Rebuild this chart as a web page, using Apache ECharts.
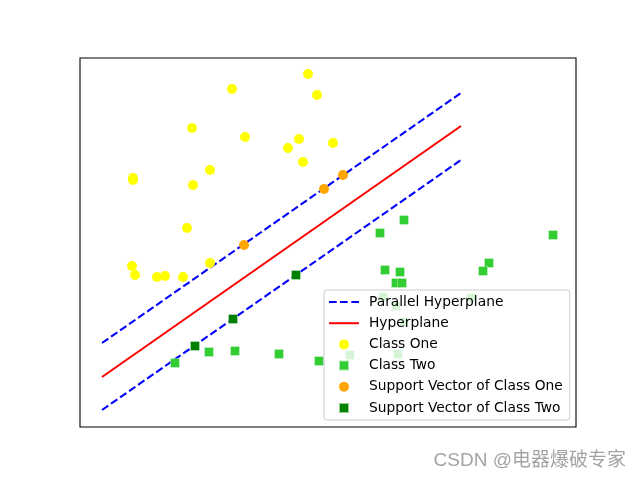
<!DOCTYPE html>
<html><head><meta charset="utf-8">
<script src="https://cdn.jsdelivr.net/npm/echarts@6/dist/echarts.min.js"></script>
<style>html,body{margin:0;padding:0;background:#fff}#c{width:640px;height:480px}</style>
</head><body><div id="c"></div>
<script>
// Data (units: arbitrary)
const classOne = [[228,353],[237,332],[152,338],[112,299],[165,290],[219,288],[208,279],[223,265],[53,249],[53,247],[130,257],[113,242],[107,199],[253,284],[52,161],[55,152],[77,150],[85,151],[103,150],[130,164]];
const classTwo = [[95,64],[129,75],[155,76],[199,73],[239,66],[324,207],[300,194],[473,192],[305,157],[320,155],[409,164],[403,156],[316,144],[322,144],[303,130],[316,121],[391,129],[324,105],[270,72],[318,73]];
const svOne = [[244,238],[263,252],[164,182]];
const svTwo = [[115,81],[153,108],[216,152]];
const hyperplane = [[22,50],[381,301]];
const parallelUpper = [[22,84],[381,334]];
const parallelLower = [[22,17],[381,267]];
const legendNames = ['Parallel Hyperplane','Hyperplane','Class One','Class Two','Support Vector of Class One','Support Vector of Class Two'];

const chart = echarts.init(document.getElementById('c'), null, {renderer:'canvas'});
const font = 'DejaVu Sans';
const sq = 'path://M0,0L10,0L10,10L0,10Z';
const solidIcon = 'path://M0,0L30,0L30,2L0,2Z';
const dashIcon = 'path://M0,0L7.7,0L7.7,2L0,2ZM11,0L18.7,0L18.7,2L11,2ZM22.3,0L30,0L30,2L22.3,2Z';
chart.setOption({
  animation:false,
  backgroundColor:'#fff',
  grid:{left:80, top:58, right:64, bottom:53, show:true, borderColor:'#000', borderWidth:1.1, backgroundColor:'transparent'},
  xAxis:{type:'value', min:0, max:496, axisLine:{show:false}, axisTick:{show:false}, axisLabel:{show:false}, splitLine:{show:false}},
  yAxis:{type:'value', min:0, max:369, axisLine:{show:false}, axisTick:{show:false}, axisLabel:{show:false}, splitLine:{show:false}},
  legend:{
    orient:'vertical', left:324, top:290,
    data:[
      {name:legendNames[0], icon:dashIcon},
      {name:legendNames[1], icon:solidIcon},
      {name:legendNames[2], icon:'circle'},
      {name:legendNames[3], icon:sq},
      {name:legendNames[4], icon:'circle'},
      {name:legendNames[5], icon:sq}
    ],
    itemWidth:30, itemHeight:10, itemGap:5.2,
    padding:[4,7,4,5],
    backgroundColor:'rgba(255,255,255,0.8)', borderColor:'#cccccc', borderWidth:1, borderRadius:3,
    textStyle:{fontFamily:font, fontSize:13.8, color:'#000', lineHeight:16, padding:[0,0,0,5]},
    selectedMode:false
  },
  series:[
    {name:'Parallel Hyperplane', type:'line', data:parallelUpper, symbol:'none', lineStyle:{color:'#0000ff', width:2.08, type:[7.7,3.3]}, itemStyle:{color:'#0000ff'}, z:1},
    {name:'Parallel Hyperplane', type:'line', data:parallelLower, symbol:'none', lineStyle:{color:'#0000ff', width:2.08, type:[7.7,3.3]}, itemStyle:{color:'#0000ff'}, z:1},
    {name:'Hyperplane', type:'line', data:hyperplane, symbol:'none', lineStyle:{color:'#ff0000', width:2.08}, itemStyle:{color:'#ff0000'}, z:1},
    {name:'Class One', type:'scatter', data:classOne, symbol:'circle', symbolSize:10, itemStyle:{color:'#ffff00', opacity:1}, z:2},
    {name:'Class Two', type:'scatter', data:classTwo, symbol:'rect', symbolSize:9, itemStyle:{color:'#32cd32', opacity:1, borderColor:'rgba(255,255,255,0.6)', borderWidth:0.5}, z:2},
    {name:'Support Vector of Class One', type:'scatter', data:svOne, symbol:'circle', symbolSize:10, itemStyle:{color:'#ffa500', opacity:1}, z:3},
    {name:'Support Vector of Class Two', type:'scatter', data:svTwo, symbol:'rect', symbolSize:9, itemStyle:{color:'#008000', opacity:1, borderColor:'rgba(255,255,255,0.6)', borderWidth:0.5}, z:3}
  ],
  graphic:[{type:'text', right:14, top:451, z:100, style:{text:'CSDN @电器爆破专家', font:'19px "Liberation Sans", "Noto Sans CJK SC", sans-serif', fill:'rgba(140,140,140,0.8)'}}]
});
</script></body></html>
